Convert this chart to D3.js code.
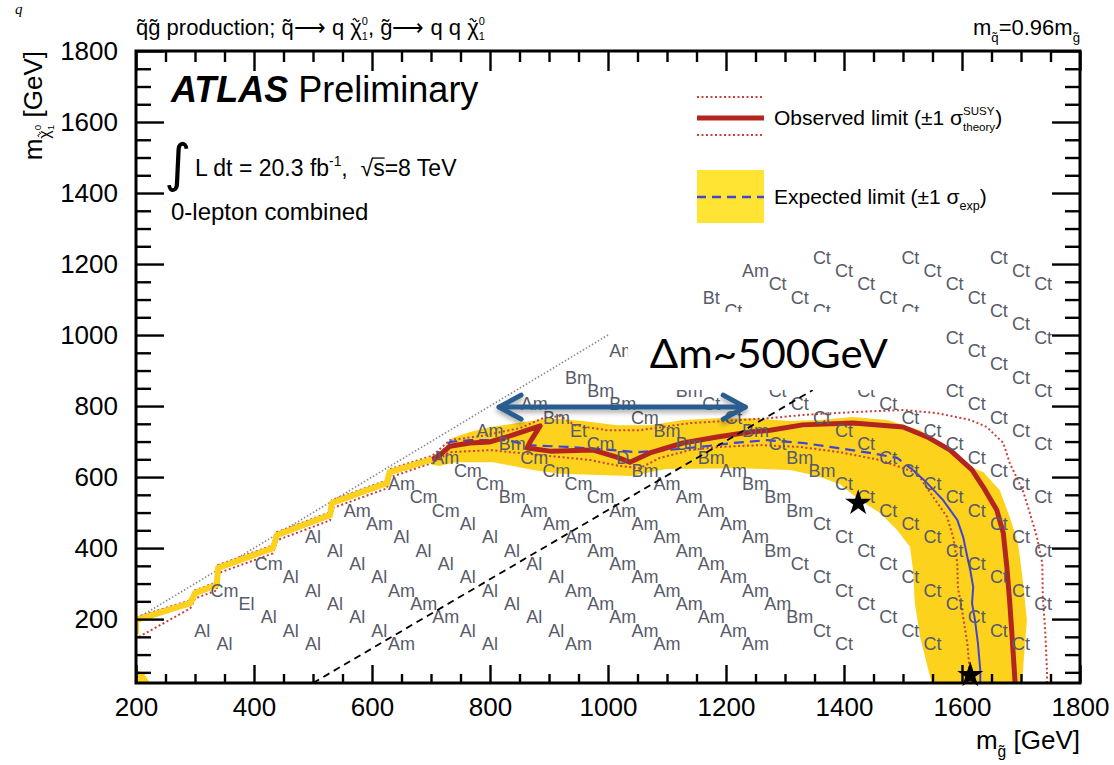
<!DOCTYPE html>
<html>
<head>
<meta charset="utf-8">
<script src="https://cdn.jsdelivr.net/npm/d3@7"></script>
<style>
  html, body { margin: 0; padding: 0; background: #fff; }
  svg { display: block; font-family: "Liberation Sans", Arial, sans-serif; }
  svg text { white-space: pre; }
</style>
</head>
<body>
<svg id="chart" width="1114" height="765"></svg>
<script>
// ATLAS squark-gluino limit plane, m_gluino vs m_neutralino

///////////////////////////////////////////////////////////////////////////////
// Data (GeV)

var xMajor = [200, 400, 600, 800, 1000, 1200, 1400, 1600, 1800];
var yMajor = [200, 400, 600, 800, 1000, 1200, 1400, 1600, 1800];

// signal grid: gluino mass columns, and diagonal scan lines of constant
// m_gluino + m_chi, each with the best signal region code per point
var gluinoGrid = [312.5, 350, 387.5, 425, 462.5, 500, 537.5, 575, 612.5, 650,
  687.5, 725, 762.5, 800, 837.5, 875, 912.5, 950, 987.5, 1025, 1062.5, 1100,
  1137.5, 1175, 1212.5, 1250, 1287.5, 1325, 1362.5, 1400, 1437.5, 1475, 1512.5,
  1550, 1587.5, 1625, 1662.5, 1700, 1737.5];
var scanSums = [480, 630, 780, 930, 1080, 1230, 1380, 1530, 1680, 1830, 1980,
  2130, 2280, 2430, 2580, 2730, 2880];
var scanFirst = [0, 1, 3, 5, 7, 9, 11, 13, 15, 17, 19, 21, 23, 25, 28, 32, 36];
var scanCodes = [
  "Al Al",
  "Cm El Al Al Al",
  "Cm Al Al Al Al Al Am",
  "Al Al Al Al Am Am Am Al Al",
  "Am Am Al Al Al Al Al Al Al Al Am",
  "Am Cm Cm Al Al Al Al Al Am Am Am Am Am",
  "Am Cm Cm Bm Am Am Am Am Am Am Am Am Am Am Am",
  "Am Bm Cm Cm Cm Cm Am Am Am Am Am Am Am Am Bm Ct Ct",
  "Am Bm Et Cm D Bm Am Am Am Am Am Bm Ct Ct Ct Ct Ct Ct Ct",
  "Bm Bm Bm Cm Bm Bm Bm Am Bm Bm Bm Ct Ct Ct Ct Ct Ct Ct Ct Ct Ct",
  "Am Bm Bm Bm Ct Ct Bm Ct Bm Bm Ct Ct Ct Ct Ct Ct Ct Ct Ct Ct",
  "Ct Ct Ct Ct Ct Ct Ct Ct Ct Ct Ct Ct Ct Ct Ct Ct Ct Ct",
  "Bt Ct Ct Ct Ct Ct Ct Ct Ct Ct Ct Ct Ct Ct Ct Ct",
  "Am Ct Ct Ct Ct Ct Ct Ct Ct Ct Ct Ct Ct Ct",
  "Ct Ct Ct Ct Ct Ct Ct Ct Ct Ct Ct",
  "Ct Ct Ct Ct Ct Ct Ct",
  "Ct Ct Ct"
];

// expected limit +-1 sigma band
var expBandUpper = [[702,654],[724,685],[736,710],[766,727],[800,741],[846,752],
  [902,766],[958,758],[1015,746],[1071,746],[1127,761],[1185,766],[1241,766],
  [1309,758],[1359,761],[1415,769],[1473,761],[1529,732],[1580,676],[1614,628],
  [1636,614],[1664,563],[1681,487],[1695,414],[1703,310],[1710,197],[1705,93],
  [1702,20]];
var expBandLower = [[702,634],[715,631],[741,642],[805,642],[873,620],[919,609],
  [1039,603],[1098,623],[1219,625],[1309,620],[1355,603],[1393,580],[1427,535],
  [1461,499],[1490,451],[1512,403],[1517,338],[1520,245],[1529,149],[1546,37],
  [1549,20]];
var cornerBand = [[200,20],[224,20],[214,45],[200,58]];

// staircase contour along the kinematic diagonal
var diagStair = [[200,158],[200,197],[292,245],[300,273],[337,296],[339,344],
  [432,400],[439,437],[529,493],[532,527],[625,583],[630,614],[702,650]];

var obsLimit = diagStair.concat([[715,662],[732,687],[766,696],[800,699],
  [834,716],[885,744],[868,699],[863,682],[902,673],[975,676],[1015,656],
  [1037,642],[1071,668],[1127,696],[1185,713],[1241,727],[1275,732],[1330,747],
  [1415,752],[1500,741],[1541,713],[1580,676],[1617,620],[1636,572],[1659,507],
  [1670,442],[1676,347],[1681,245],[1685,149],[1690,20]]);

var obsUp = [[200,205],[292,253],[300,281],[337,304],[339,352],[432,408],
  [439,445],[529,501],[532,535],[625,591],[630,622],[702,660],[732,704],
  [783,715],[851,738],[890,766],[919,772],[944,746],[998,732],[1054,732],
  [1139,752],[1229,761],[1275,766],[1331,775],[1415,783],[1500,789],[1558,780],
  [1614,761],[1642,741],[1670,696],[1681,639],[1703,563],[1715,499],[1727,431],
  [1736,358],[1737,262],[1741,169],[1744,56],[1744,20]];

var obsDown = [[205,150],[292,230],[300,258],[337,281],[339,329],[432,385],
  [439,422],[529,478],[532,512],[625,568],[630,599],[702,640],[732,670],
  [800,676],[885,662],[970,648],[1020,631],[1054,625],[1088,654],[1139,676],
  [1190,685],[1258,690],[1325,685],[1393,670],[1461,648],[1524,611],[1551,544],
  [1575,487],[1585,431],[1592,358],[1593,290],[1600,225],[1609,132],[1615,20]];

var expDashed = diagStair.concat([[715,662],[732,699],[766,704],[829,704],
  [863,690],[931,685],[986,679],[1049,670],[1100,676],[1156,685],[1212,696],
  [1270,704],[1331,696],[1388,682],[1444,668],[1490,654],[1517,620]]);
var expSolid = [[1517,620],[1541,583],[1568,535],[1592,479],[1602,431],
  [1609,375],[1614,338],[1619,290],[1617,245],[1622,197],[1627,132],[1631,56],
  [1631,20]];

var kinematicEdge = [[200,200],[1000,1000]];

// annotations
var deltaLine = [[500,20],[1347,845]];
var arrowEnds = [[812,797],[1236,797]];
var noteBox = [[1034,1065],[1568,845]];
var notePos = [1071,907];
var stars = [[1424,527],[1614,42]];

///////////////////////////////////////////////////////////////////////////////
// Setup

var svg = d3.select("#chart");
var x = d3.scaleLinear().domain([200, 1800]).range([136, 1080]);
var y = d3.scaleLinear().domain([20, 1800]).range([683, 51]);

var RED = "#b3261f", RED2 = "#c8403a", BLUE = "#4343d4", YELLOW = "#fcd21c";

var defs = svg.append("defs");
defs.append("clipPath").attr("id", "plotClip").append("rect")
  .attr("x", x(200)).attr("y", y(1800))
  .attr("width", x(1800) - x(200)).attr("height", y(20) - y(1800));
var shadow = defs.append("filter").attr("id", "shadow")
  .attr("x", "-20%").attr("y", "-100%").attr("width", "140%").attr("height", "300%");
shadow.append("feDropShadow").attr("dx", 0).attr("dy", 3)
  .attr("stdDeviation", 2.5).attr("flood-color", "#000").attr("flood-opacity", 0.35);

var line = d3.line().x(function (d) { return x(d[0]); }).y(function (d) { return y(d[1]); });

var plot = svg.append("g").attr("clip-path", "url(#plotClip)");

///////////////////////////////////////////////////////////////////////////////
// Contours

plot.append("path")
  .attr("d", line(expBandUpper.concat(expBandLower.slice().reverse())) + "Z")
  .attr("fill", YELLOW);
plot.append("path").attr("d", line(cornerBand) + "Z").attr("fill", YELLOW);

plot.append("path").attr("d", line(kinematicEdge))
  .attr("fill", "none").attr("stroke", "#8a8a8a").attr("stroke-width", 1.6)
  .attr("stroke-dasharray", "1.5,2");

[obsUp, obsDown].forEach(function (c) {
  plot.append("path").attr("d", line(c))
    .attr("fill", "none").attr("stroke", RED2).attr("stroke-width", 2)
    .attr("stroke-dasharray", "2,2.5");
});

plot.append("path").attr("d", line(expDashed))
  .attr("fill", "none").attr("stroke", BLUE).attr("stroke-width", 2.2)
  .attr("stroke-dasharray", "10,6");
plot.append("path").attr("d", line(expSolid))
  .attr("fill", "none").attr("stroke", BLUE).attr("stroke-width", 2);

plot.append("path").attr("d", line(obsLimit))
  .attr("fill", "none").attr("stroke", RED).attr("stroke-width", 5)
  .attr("stroke-linejoin", "round");

// along the diagonal the band covers the lines
plot.append("path").attr("d", line(diagStair))
  .attr("fill", "none").attr("stroke", YELLOW).attr("stroke-width", 6)
  .attr("stroke-linejoin", "round");

///////////////////////////////////////////////////////////////////////////////
// Signal region labels at grid points

var points = [];
scanCodes.forEach(function (row, j) {
  row.split(" ").forEach(function (code, k) {
    var mg = gluinoGrid[scanFirst[j] + k];
    points.push({mg: mg, mchi: scanSums[j] - mg, code: code});
  });
});

// labels fully under the white note box are not visible
var bx0 = x(noteBox[0][0]) + 4, bx1 = x(noteBox[1][0]) - 4;
var by0 = y(noteBox[0][1]) + 4, by1 = y(noteBox[1][1]) - 4;
var shown = points.filter(function (d) {
  var px = x(d.mg), py = y(d.mchi);
  return !(px > bx0 && px < bx1 && py > by0 && py < by1);
});

plot.append("g").selectAll("text").data(shown).enter().append("text")
  .attr("x", function (d) { return x(d.mg); })
  .attr("y", function (d) { return y(d.mchi); })
  .attr("text-anchor", "middle").attr("dominant-baseline", "central")
  .style("font-size", "18px").attr("fill", "#575b69")
  .text(function (d) { return d.code; });

///////////////////////////////////////////////////////////////////////////////
// Annotations

plot.append("path").attr("d", line(deltaLine))
  .attr("fill", "none").attr("stroke", "#000").attr("stroke-width", 1.8)
  .attr("stroke-dasharray", "7,5");

plot.append("rect")
  .attr("x", x(noteBox[0][0])).attr("y", y(noteBox[0][1]))
  .attr("width", x(noteBox[1][0]) - x(noteBox[0][0]))
  .attr("height", y(noteBox[1][1]) - y(noteBox[0][1]))
  .attr("fill", "#fff");

svg.append("text").attr("x", x(notePos[0])).attr("y", y(notePos[1]))
  .style("font-family", "Lato, 'Open Sans', sans-serif").style("font-size", "40px")
  .attr("textLength", 238).attr("lengthAdjust", "spacingAndGlyphs")
  .attr("fill", "#000").text("Δm~500GeV");

var arrow = svg.append("g").attr("filter", "url(#shadow)")
  .attr("stroke", "#2c5d8f").attr("stroke-width", 5).attr("fill", "none")
  .attr("stroke-linecap", "round").attr("stroke-linejoin", "round");
var ax0 = x(arrowEnds[0][0]), ax1 = x(arrowEnds[1][0]), ay = y(arrowEnds[0][1]);
arrow.append("line").attr("x1", ax0 + 2).attr("x2", ax1 - 2).attr("y1", ay).attr("y2", ay);
arrow.append("polyline").attr("points", [[ax0 + 24, ay - 12], [ax0 + 2, ay], [ax0 + 24, ay + 12]].join(" "));
arrow.append("polyline").attr("points", [[ax1 - 24, ay - 12], [ax1 - 2, ay], [ax1 - 24, ay + 12]].join(" "));

svg.append("g").selectAll("path").data(stars).enter().append("path")
  .attr("transform", function (d) { return "translate(" + x(d[0]) + "," + y(d[1]) + ")"; })
  .attr("d", d3.symbol().type(d3.symbolStar).size(210)())
  .attr("fill", "#000");

///////////////////////////////////////////////////////////////////////////////
// Axes and frame

function tidy(g) {
  g.select(".domain").remove();
  g.attr("font-family", null).attr("font-size", null);
  g.selectAll(".tick line").attr("stroke", "#000").attr("stroke-width", 2.4);
  g.selectAll(".tick text").style("font-size", "26px").attr("fill", "#000");
}
var xMinor = d3.range(250, 1800, 50).filter(function (v) { return v % 200; });
var yMinor = d3.range(50, 1800, 50).filter(function (v) { return v % 200; });
var fmt = d3.format("d");

svg.append("g").attr("transform", "translate(0," + y(20) + ")")
  .call(d3.axisBottom(x).tickValues(xMajor).tickSize(-18).tickPadding(15).tickFormat(fmt)).call(tidy);
svg.append("g").attr("transform", "translate(0," + y(20) + ")")
  .call(d3.axisBottom(x).tickValues(xMinor).tickSize(-9).tickFormat("")).call(tidy);
svg.append("g").attr("transform", "translate(0," + y(1800) + ")")
  .call(d3.axisTop(x).tickValues(xMajor).tickSize(-20).tickFormat("")).call(tidy);
svg.append("g").attr("transform", "translate(0," + y(1800) + ")")
  .call(d3.axisTop(x).tickValues(xMinor).tickSize(-11).tickFormat("")).call(tidy);
svg.append("g").attr("transform", "translate(" + x(200) + ",0)")
  .call(d3.axisLeft(y).tickValues(yMajor).tickSize(-28).tickPadding(18).tickFormat(fmt)).call(tidy);
svg.append("g").attr("transform", "translate(" + x(200) + ",0)")
  .call(d3.axisLeft(y).tickValues(yMinor).tickSize(-15).tickFormat("")).call(tidy);
svg.append("g").attr("transform", "translate(" + x(1800) + ",0)")
  .call(d3.axisRight(y).tickValues(yMajor).tickSize(-28).tickFormat("")).call(tidy);
svg.append("g").attr("transform", "translate(" + x(1800) + ",0)")
  .call(d3.axisRight(y).tickValues(yMinor).tickSize(-15).tickFormat("")).call(tidy);

svg.append("rect").attr("x", x(200)).attr("y", y(1800))
  .attr("width", x(1800) - x(200)).attr("height", y(20) - y(1800))
  .attr("fill", "none").attr("stroke", "#000").attr("stroke-width", 3);

///////////////////////////////////////////////////////////////////////////////
// Texts with sub/superscripts

function richText(sel, x0, y0, size, pieces) {
  var g = sel.append("g").attr("fill", "#000");
  var cx = x0;
  pieces.forEach(function (p) {
    if (p.sup !== undefined || p.sub !== undefined) {
      var s = size * (p.scale || 0.6), w = 0;
      if (p.sup !== undefined) {
        var a = g.append("text").attr("x", cx).attr("y", y0 - size * (p.supUp || 0.45))
          .style("font-size", s + "px").text(p.sup);
        w = a.node().getComputedTextLength();
      }
      if (p.sub !== undefined) {
        var b = g.append("text").attr("x", cx).attr("y", y0 + size * (p.subDown || 0.22))
          .style("font-size", s + "px").text(p.sub);
        w = Math.max(w, b.node().getComputedTextLength());
      }
      cx += w + (p.gap || 0);
      return;
    }
    var fs = size * (p.scale || 1), by = y0 + size * (p.down || 0);
    var t = g.append("text").attr("x", cx).attr("y", by)
      .style("font-size", fs + "px")
      .style("font-weight", p.bold ? "bold" : null)
      .style("font-style", p.italic ? "italic" : null)
      .text(p.t);
    var w = t.node().getComputedTextLength();
    if (p.tilde) {
      // drawn as a small stroke so it stays inside the glyph box
      var tw = w * 0.55, tx = cx + (w - tw) / 2, ty = by - fs * 0.72;
      g.append("path")
        .attr("d", "M" + tx + "," + (ty + 1) + " q" + tw / 4 + ",-3 " + tw / 2 + ",0 t" + tw / 2 + ",0")
        .attr("fill", "none").attr("stroke", "#000").attr("stroke-width", Math.max(1, fs / 18));
    }
    if (p.over) {
      g.append("line").attr("x1", cx - 1).attr("x2", cx + w)
        .attr("y1", y0 - size * 0.78).attr("y2", y0 - size * 0.78)
        .attr("stroke", "#000").attr("stroke-width", 1.3);
    }
    cx += w;
  });
  return {g: g, width: cx - x0};
}

// title and top-right label
richText(svg, 136, 35, 22, [
  {t: "q\u0303g\u0303 production; q\u0303\u27f6 q "}, {t: "\u03c7", tilde: true},
  {sup: "0", sub: "1", scale: 0.5},
  {t: ", g\u0303\u27f6 q q "}, {t: "\u03c7", tilde: true}, {sup: "0", sub: "1", scale: 0.5}
]);
var topRight = richText(svg, 0, 35, 22, [
  {t: "m"}, {sub: "q\u0303", scale: 0.6, subDown: 0.3}, {t: "=0.96m"}, {sub: "g\u0303", scale: 0.6, subDown: 0.3}
]);
topRight.g.attr("transform", "translate(" + (x(1800) - topRight.width) + ",0)");

// ATLAS block
richText(svg, 171, 102, 36, [{t: "ATLAS", bold: true, italic: true}, {t: " Preliminary"}]);
svg.append("text").attr("x", 164).attr("y", 181)
  .style("font-family", "'DejaVu Sans', sans-serif").style("font-size", "52px").text("\u222b");
richText(svg, 195, 176, 23, [
  {t: "L dt = 20.3 fb"}, {sup: "-1", scale: 0.6}, {t: ",  \u221a"}, {t: "s", over: true}, {t: "=8 TeV"}
]);
richText(svg, 171, 220, 24, [{t: "0-lepton combined"}]);

// legend
var leg = svg.append("g");
leg.append("line").attr("x1", 697).attr("x2", 764).attr("y1", 97).attr("y2", 97)
  .attr("stroke", RED2).attr("stroke-width", 1.8).attr("stroke-dasharray", "2,2.5");
leg.append("line").attr("x1", 697).attr("x2", 764).attr("y1", 118).attr("y2", 118)
  .attr("stroke", RED).attr("stroke-width", 5);
leg.append("line").attr("x1", 697).attr("x2", 764).attr("y1", 135).attr("y2", 135)
  .attr("stroke", RED2).attr("stroke-width", 1.8).attr("stroke-dasharray", "2,2.5");
leg.append("rect").attr("x", 697).attr("y", 170).attr("width", 67).attr("height", 53)
  .attr("fill", "#ffe433");
leg.append("line").attr("x1", 697).attr("x2", 764).attr("y1", 197).attr("y2", 197)
  .attr("stroke", BLUE).attr("stroke-width", 2.5).attr("stroke-dasharray", "9,6");
richText(leg, 774, 125, 21, [
  {t: "Observed limit (\u00b11 \u03c3"}, {sup: "SUSY", sub: "theory", scale: 0.55, supUp: 0.5, subDown: 0.3},
  {t: ")"}
]);
richText(leg, 774, 204, 21, [
  {t: "Expected limit (\u00b11 \u03c3"}, {sub: "exp", scale: 0.6, subDown: 0.3}, {t: ")"}
]);

// axis titles
var xt = richText(svg, 0, 749, 26, [{t: "m"}, {sub: "g\u0303", scale: 0.6, subDown: 0.3}, {t: " [GeV]"}]);
xt.g.attr("transform", "translate(" + (x(1800) - xt.width) + ",0)");

var yg = svg.append("g").attr("transform", "translate(42," + y(1800) + ") rotate(-90)");
var yt = richText(yg, 0, 0, 26, [
  {t: "m"}, {t: "\u03c7", tilde: true, scale: 0.62, down: 0.3},
  {sup: "0", sub: "1", scale: 0.38, supUp: 0.05, subDown: 0.45}, {t: " [GeV]"}
]);
yt.g.attr("transform", "translate(" + (-yt.width) + ",0)");

// stray glyph at the top-left corner of the original slide
svg.append("text").attr("x", 15).attr("y", 14)
  .style("font-family", "'Liberation Serif', serif").style("font-style", "italic")
  .style("font-size", "15px").text("q");
</script>
</body>
</html>
